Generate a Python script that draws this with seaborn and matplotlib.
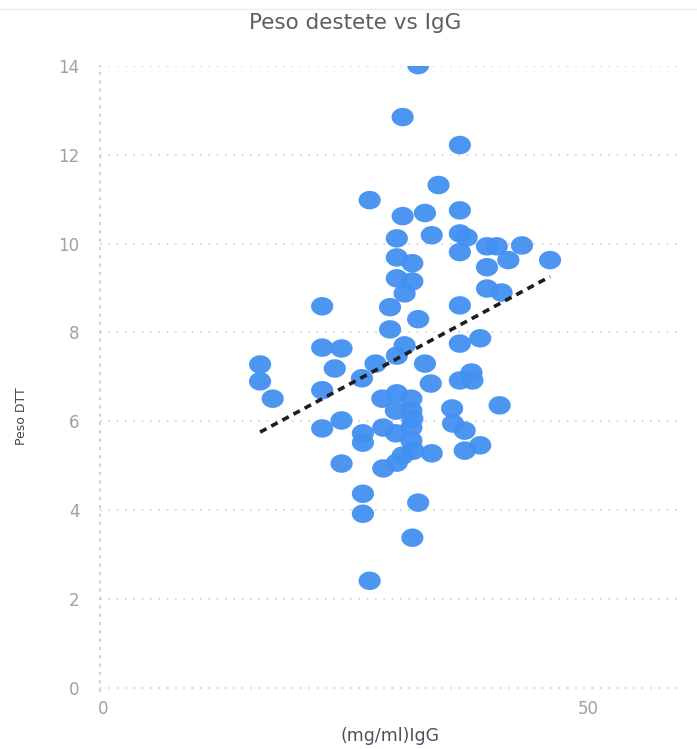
import numpy as np
import pandas as pd
import matplotlib
matplotlib.use("Agg")
import matplotlib.pyplot as plt
from matplotlib.path import Path
from matplotlib.lines import Line2D
import seaborn as sns

# IgG concentration (mg/ml) and weaning weight (Peso DTT)
igg = [32.5, 30.9, 36.8, 34.6, 27.5, 30.9, 33.2, 36.8, 33.9, 36.8,
       37.5, 30.3, 36.8, 39.6, 40.6, 39.6, 41.8, 43.2, 46.1, 30.3,
       31.9, 30.3, 31.9, 31.1, 39.6, 41.1, 36.8, 22.6, 29.6, 32.5,
       29.6, 22.6, 24.6, 31.1, 36.8, 38.9, 30.3, 16.2, 23.9, 28.1,
       33.2, 16.2, 26.7, 33.8, 36.8, 38.0, 38.1, 17.5, 22.6, 28.8,
       30.3, 40.9, 36.0, 36.1, 37.3, 38.9, 37.3, 33.9, 24.6, 22.6,
       26.8, 26.8, 28.9, 24.6, 28.9, 30.3, 30.9, 26.8, 26.8, 32.5,
       31.9, 27.5, 31.8, 30.2, 31.8, 31.8, 30.2, 31.8, 32.0, 31.9]
peso = [14.02, 12.85, 12.22, 11.32, 10.98, 10.62, 10.69, 10.75, 10.19, 10.23,
        10.14, 10.12, 9.81, 9.94, 9.94, 9.47, 9.63, 9.96, 9.63, 9.69,
        9.56, 9.22, 9.15, 8.88, 8.99, 8.90, 8.61, 8.59, 8.57, 8.30,
        8.07, 7.66, 7.64, 7.71, 7.75, 7.87, 7.48, 7.28, 7.19, 7.30,
        7.30, 6.90, 6.97, 6.85, 6.92, 7.10, 6.92, 6.51, 6.70, 6.51,
        6.63, 6.36, 6.29, 5.95, 5.79, 5.46, 5.34, 5.28, 6.02, 5.84,
        5.73, 5.52, 5.86, 5.05, 4.94, 5.07, 5.23, 4.37, 3.92, 4.17,
        3.38, 2.41, 6.51, 6.24, 6.24, 5.86, 5.73, 5.57, 5.34, 6.06]

y_ticks = [0, 2, 4, 6, 8, 10, 12, 14]
x_ticks = [0, 50]

df = pd.DataFrame({"igg": igg, "peso": peso})

sns.set_style("white")
plt.rcParams["font.family"] = ["DejaVu Sans"]

fig = plt.figure(figsize=(6.97, 7.49), dpi=100)
ax = fig.add_axes([0.1436, 0.0769, 0.832, 0.835])

# faint rule across the top of the figure
fig.add_artist(Line2D([0.0, 1.0], [0.988, 0.988], transform=fig.transFigure,
                      color="#ececec", lw=1))

# slightly wide elliptical marker
t = np.linspace(0, 2 * np.pi, 64)
ellipse = Path(np.column_stack([1.2 * np.cos(t), np.sin(t)]), closed=True)

sns.scatterplot(data=df, x="igg", y="peso", ax=ax, marker=ellipse, s=255,
                color="#4290f2", edgecolor="none", linewidth=0, alpha=0.95,
                zorder=3)
sns.regplot(data=df, x="igg", y="peso", ax=ax, scatter=False, ci=None,
            line_kws=dict(color="#1e1e1e", lw=2.6, ls=(0, (2.0, 1.5)),
                          zorder=4))

ax.set_xlim(-0.3, 59.5)
ax.set_ylim(-0.08, 14)
ax.set_xticks(x_ticks)
ax.set_yticks(y_ticks)

for s in ["top", "right", "bottom"]:
    ax.spines[s].set_visible(False)
ax.spines["left"].set_linestyle((0, (1, 4)))
ax.spines["left"].set_color("#c8c8c8")
ax.spines["left"].set_linewidth(1.2)

ax.yaxis.grid(True, color="#cfcfcf", linestyle=(0, (1, 4)), linewidth=1.2)
ax.xaxis.grid(False)
ax.set_axisbelow(True)

ax.tick_params(axis="both", length=0, colors="#a0a0a0", labelsize=12)
ax.tick_params(axis="y", pad=15)
ax.tick_params(axis="x", pad=6)

fig.suptitle("Peso destete vs IgG", x=0.51, y=0.983, va="top",
             fontsize=15.5, color="#5e5e5e")
ax.set_xlabel("(mg/ml)IgG", fontsize=12.5, color="#505060", labelpad=7)
ax.set_ylabel("Peso DTT", fontsize=9, color="#454545")
ax.yaxis.set_label_coords(-0.125, 0.44)

fig.savefig("out.png", dpi=100, facecolor="white")
